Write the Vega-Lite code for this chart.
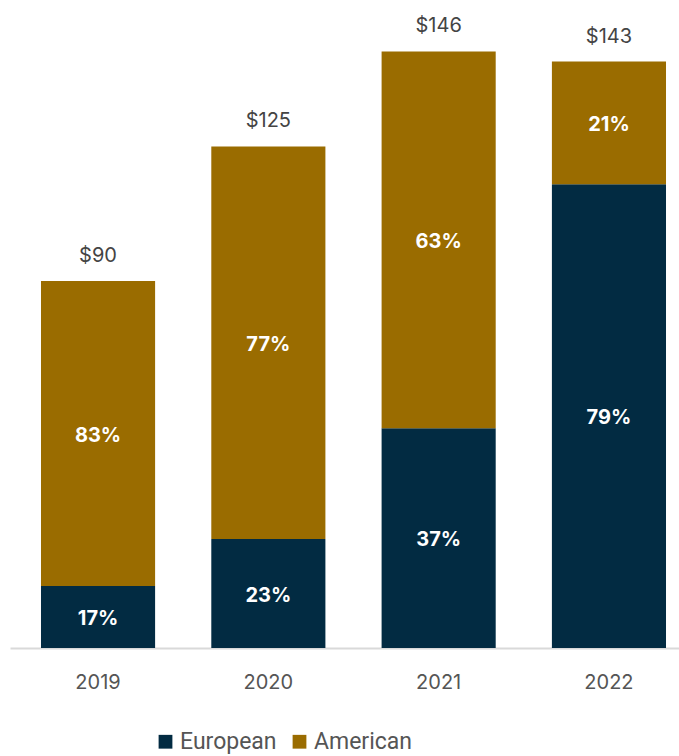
{
  "$schema": "https://vega.github.io/schema/vega-lite/v6.json",
  "autosize": {"type": "none"},
  "width": 687,
  "height": 628,
  "padding": {"left": 10, "top": 20, "right": 0, "bottom": 108},
  "background": "white",
  "config": {"view": {"stroke": null}, "font": "Inter"},
  "data": {
    "values": [
      {"year": "2019", "region": "European", "ord": 1, "value": 15.2, "pct": "17%", "total": "$90"},
      {"year": "2019", "region": "American", "ord": 2, "value": 74.8, "pct": "83%", "total": "$90"},
      {"year": "2020", "region": "European", "ord": 1, "value": 26.7, "pct": "23%", "total": "$125"},
      {"year": "2020", "region": "American", "ord": 2, "value": 96.3, "pct": "77%", "total": "$125"},
      {"year": "2021", "region": "European", "ord": 1, "value": 53.9, "pct": "37%", "total": "$146"},
      {"year": "2021", "region": "American", "ord": 2, "value": 92.4, "pct": "63%", "total": "$146"},
      {"year": "2022", "region": "European", "ord": 1, "value": 113.7, "pct": "79%", "total": "$143"},
      {"year": "2022", "region": "American", "ord": 2, "value": 30.1, "pct": "21%", "total": "$143"}
    ]
  },
  "transform": [
    {"stack": "value", "groupby": ["year"], "sort": [{"field": "ord"}], "as": ["y0", "y1"]},
    {"calculate": "(datum.y0 + datum.y1) / 2", "as": "ymid"}
  ],
  "encoding": {
    "x": {
      "field": "year", "type": "nominal",
      "scale": {"paddingInner": 0.33, "paddingOuter": 0.182},
      "axis": {"title": null, "labelAngle": 0, "ticks": false, "domainColor": "#d9d9d9", "domainWidth": 2, "labelFontSize": 20, "labelColor": "#555555", "labelPadding": 24, "labelFont": "Inter"}
    }
  },
  "layer": [
    {
      "mark": {"type": "bar"},
      "encoding": {
        "y": {"field": "y0", "type": "quantitative", "scale": {"domain": [0, 154], "nice": false}, "axis": null},
        "y2": {"field": "y1"},
        "color": {
          "field": "region", "type": "nominal",
          "scale": {"domain": ["European", "American"], "range": ["#022B42", "#9A6C00"]},
          "legend": {"title": null, "orient": "none", "legendX": 144, "legendY": 710, "direction": "horizontal", "symbolType": "square", "symbolSize": 190, "symbolStrokeWidth": 0, "labelFontSize": 23, "labelColor": "#555555", "columnPadding": 11, "labelOffset": 3, "labelFont": "Roboto"}
        }
      }
    },
    {
      "mark": {"type": "text", "color": "white", "fontWeight": "bold", "fontSize": 20, "font": "Inter", "dy": 2},
      "encoding": {
        "y": {"field": "ymid", "type": "quantitative"},
        "text": {"field": "pct"}
      }
    },
    {
      "transform": [{"filter": "datum.region === 'American'"}],
      "mark": {"type": "text", "color": "#444444", "fontSize": 20, "dy": -25, "font": "Inter"},
      "encoding": {
        "y": {"field": "y1", "type": "quantitative"},
        "text": {"field": "total"}
      }
    }
  ]
}
